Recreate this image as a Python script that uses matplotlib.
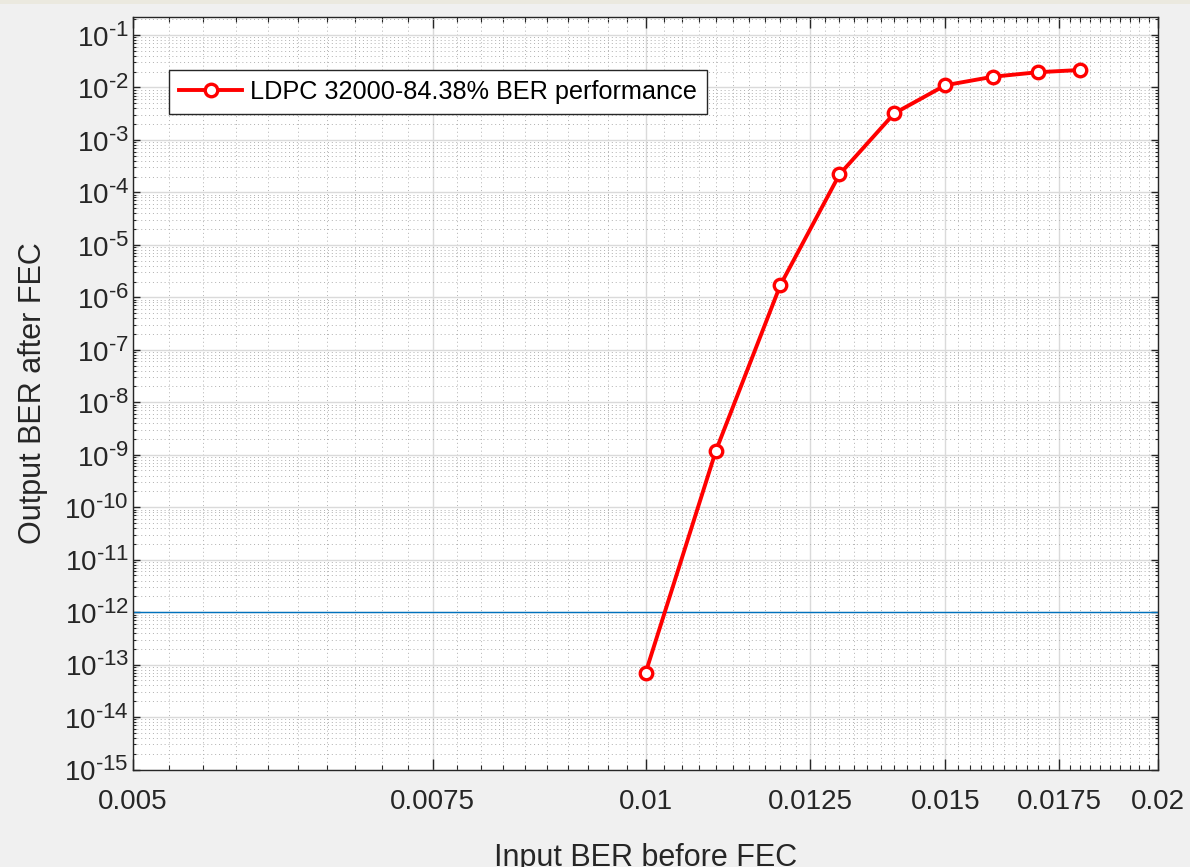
import numpy as np
import matplotlib as mpl
import matplotlib.pyplot as plt
from matplotlib.ticker import FixedLocator, MultipleLocator, LogLocator, NullFormatter, FuncFormatter
from matplotlib.patches import Rectangle

try:
    import matplotlib._mathtext as _mt
    _mt.SHRINK_FACTOR = 0.8  # larger exponents, closer to the reference
except Exception:
    pass

# data
input_ber = [0.010, 0.011, 0.012, 0.013, 0.014, 0.015, 0.016, 0.017, 0.018]
output_ber = [6.9e-14, 1.2e-9, 1.7e-6, 2.2e-4, 3.2e-3, 1.1e-2, 1.6e-2, 1.95e-2, 2.15e-2]
target_ber = 1e-12
x_ticks = [0.005, 0.0075, 0.01, 0.0125, 0.015, 0.0175, 0.02]
x_tick_labels = ['0.005', '0.0075', '0.01', '0.0125', '0.015', '0.0175', '0.02']
legend_label = 'LDPC 32000-84.38% BER performance'

mpl.rcParams.update({
    'font.family': ['Liberation Sans', 'DejaVu Sans'],
    'mathtext.fontset': 'custom',
    'mathtext.rm': 'Liberation Sans',
    'mathtext.it': 'Liberation Sans:italic',
    'mathtext.bf': 'Liberation Sans:bold',
})

dpi = 100
fig = plt.figure(dpi=dpi, figsize=(1190 / dpi, 867 / dpi), facecolor='#f0f0f0')
# thin light strip along the top edge of the window
fig.patches.append(Rectangle((0, 1 - 4 / 867), 1, 4 / 867, transform=fig.transFigure,
                             facecolor='#ebe9df', edgecolor='none'))

ax = fig.add_axes([133 / 1190, 1 - 769.5 / 867, (1158 - 133) / 1190, (769.5 - 17) / 867])
ax.set_xscale('log')
ax.set_yscale('log')

ax.axhline(target_ber, color=(0, 0.447, 0.741), lw=1.0, zorder=2)
ax.plot(input_ber, output_ber, color='red', lw=2.8, marker='o', ms=9,
        mfc='white', mec='red', mew=2.4, label=legend_label, zorder=3)

ax.set_xlim(0.005, 0.02)
ax.set_ylim(1e-15, 0.22)


def xfmt(v, pos):
    i = int(np.argmin([abs(t - v) for t in x_ticks]))
    return x_tick_labels[i]


ax.xaxis.set_major_locator(FixedLocator(x_ticks))
ax.xaxis.set_major_formatter(FuncFormatter(xfmt))
ax.xaxis.set_minor_locator(MultipleLocator(0.00025))
ax.xaxis.set_minor_formatter(NullFormatter())

ax.yaxis.set_major_locator(LogLocator(base=10, numticks=30))
ax.yaxis.set_major_formatter(FuncFormatter(
    lambda v, p: r'$10^{\mathrm{\text{-}%d}}$' % abs(round(np.log10(v)))))
ax.yaxis.set_minor_locator(LogLocator(base=10, subs=range(2, 10), numticks=30))
ax.yaxis.set_minor_formatter(NullFormatter())

ax.grid(True, which='major', color='#dadada', lw=1.0, ls='-')
ax.grid(True, which='minor', color='#b0b0b0', lw=0.7, ls=(0, (1, 3)))
ax.set_axisbelow(True)

ax.tick_params(which='both', direction='in', top=True, right=True, colors='#262626',
               labelcolor='#262626')
ax.tick_params(axis='x', which='major', length=8, width=1.0, labelsize=20, pad=14)
ax.tick_params(axis='x', which='minor', length=3.5, width=0.8)
ax.tick_params(axis='y', which='major', length=5, width=1.0, labelsize=20, pad=3)
ax.tick_params(axis='y', which='minor', length=2.5, width=0.8)
for s in ax.spines.values():
    s.set_color('#262626')
    s.set_linewidth(1.0)

ax.set_xlabel('Input BER before FEC', fontsize=22, color='#262626', labelpad=20)
ax.set_ylabel('Output BER after FEC', fontsize=22, color='#262626', labelpad=12)

leg = ax.legend(loc='upper left', bbox_to_anchor=(36 / 1025, 1 - 53 / 752.5), fontsize=18.2,
                frameon=True, fancybox=False, edgecolor='#262626', framealpha=1,
                handlelength=2.5, handletextpad=0.3, borderpad=0.4, borderaxespad=0)
leg.get_frame().set_linewidth(1.0)

fig.savefig('out.png', dpi=dpi, facecolor=fig.get_facecolor())
